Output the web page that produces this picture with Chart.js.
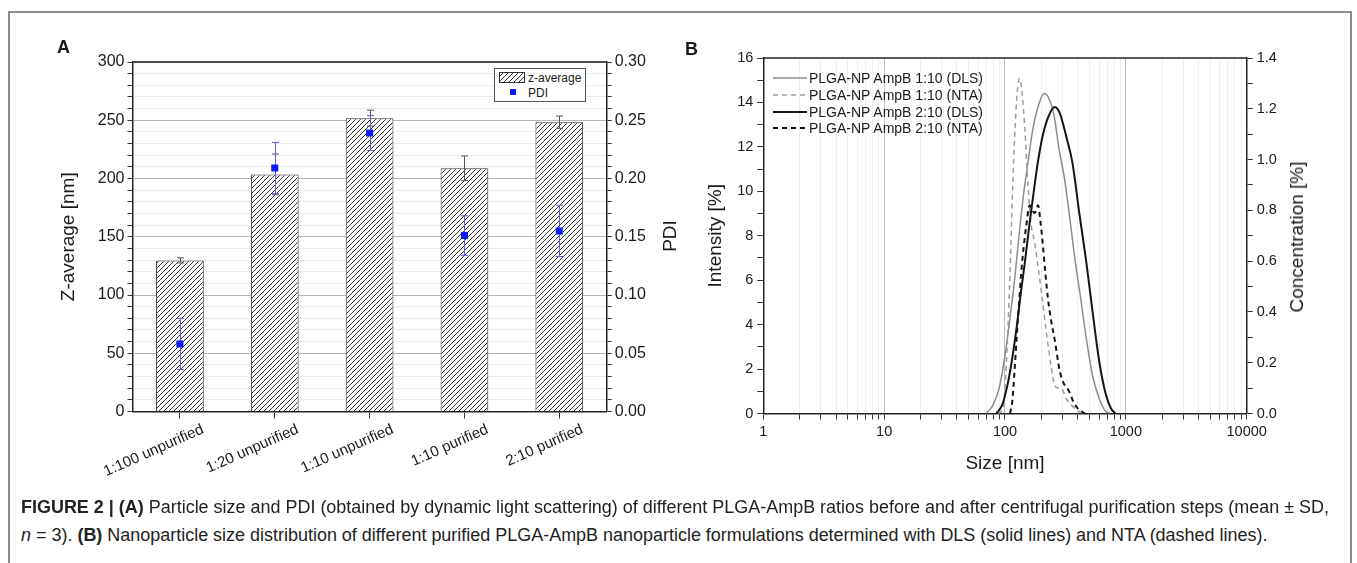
<!DOCTYPE html>
<html>
<head>
<meta charset="utf-8">
<script src="https://cdn.jsdelivr.net/npm/chart.js@4.4.1/dist/chart.umd.min.js"></script>
<style>
  body { margin: 0; width: 1357px; height: 563px; background: #fff; position: relative; overflow: hidden;
         font-family: 'Liberation Sans', Arial, sans-serif; color: #1a1a1a; }
  #frame { position: absolute; left: 8px; top: 11px; width: 1340px; height: 600px; border: 2px solid #8c8c8c; border-bottom: none; }
  canvas { position: absolute; top: 0; }
  .panel { position: absolute; font-weight: bold; font-size: 18px; }
  .rtitle { position: absolute; font-size: 19px; white-space: nowrap; transform: translate(-50%, -50%) rotate(-90deg); }
  #legA { position: absolute; left: 494px; top: 68px; width: 90px; height: 32px; border: 1px solid #555; background: #fff; font-size: 12px; }
  #legA div { position: absolute; white-space: nowrap; }
  #legB { position: absolute; left: 773px; top: 70px; font-size: 14px; }
  #legB .row { height: 16.7px; display: flex; align-items: center; white-space: nowrap; }
  #legB svg { margin-right: 2px; }
  .cap { position: absolute; left: 21px; white-space: nowrap; font-family: 'Liberation Sans Narrow', 'Liberation Sans', Arial, sans-serif;
         font-size: 17.5px; color: #222; transform-origin: 0 50%; }
</style>
</head>
<body>
<div id="frame"></div>
<canvas id="chartA" width="700" height="520" style="left:0;width:700px;height:520px"></canvas>
<canvas id="chartB" width="707" height="520" style="left:650px;width:707px;height:520px"></canvas>
<div class="panel" style="left:57px;top:37px">A</div>
<div class="panel" style="left:685px;top:39px">B</div>
<div class="rtitle" style="left:670px;top:236px">PDI</div>
<div class="rtitle" style="left:1297px;top:237px">Concentration [%]</div>
<div id="legA"></div>
<div id="legB"></div>
<div class="cap" id="cap1" style="top:497px"><b>FIGURE 2 | (A)</b> Particle size and PDI (obtained by dynamic light scattering) of different PLGA-AmpB ratios before and after centrifugal purification steps (mean ± SD,</div>
<div class="cap" id="cap2" style="top:525px"><i>n</i> = 3). <b>(B)</b> Nanoparticle size distribution of different purified PLGA-AmpB nanoparticle formulations determined with DLS (solid lines) and NTA (dashed lines).</div>
<script>
// panel A data
const categories = ['1:100 unpurified', '1:20 unpurified', '1:10 unpurified', '1:10 purified', '2:10 purified'];
const zAverage = [129.7, 203.5, 251.8, 208.8, 248.3];
const zAverageSD = [2.2, 17.5, 6.8, 10.6, 5.3];
const pdi = [0.058, 0.209, 0.239, 0.151, 0.155];
const pdiSD = [0.022, 0.022, 0.015, 0.017, 0.022];

// panel B data (size in nm, DLS intensity in %, NTA concentration in %)
const dls110Size = [70, 80, 90, 100, 110, 120, 130, 142, 155, 170, 190, 210, 230, 255, 280, 310, 340, 380, 420, 470, 530, 600, 680, 740];
const dls110Intensity = [0, 0.4, 1.2, 2.6, 4.3, 6.0, 7.9, 9.8, 11.3, 12.8, 13.9, 14.4, 14.2, 13.4, 11.9, 10.6, 9.0, 6.9, 5.3, 3.4, 1.7, 0.7, 0.1, 0];
const nta110Size = [88, 96, 100, 105, 110, 115, 120, 126, 132, 138, 146, 155, 165, 175, 185, 200, 220, 240, 258, 275, 292, 320, 360, 400, 440];
const nta110Conc = [0, 0.02, 0.1, 0.3, 0.55, 0.85, 1.08, 1.26, 1.32, 1.27, 1.12, 0.9, 0.74, 0.68, 0.6, 0.48, 0.32, 0.19, 0.11, 0.1, 0.1, 0.06, 0.03, 0.01, 0];
const dls210Size = [85, 95, 105, 113, 125, 135, 146, 160, 175, 187, 205, 230, 258, 285, 320, 361, 410, 471, 530, 606, 680, 750, 820];
const dls210Intensity = [0, 0.4, 1.3, 2.25, 3.9, 5.4, 6.8, 8.6, 10.2, 11.3, 12.5, 13.4, 13.8, 13.5, 12.5, 11.3, 9.1, 6.8, 4.6, 2.25, 0.9, 0.25, 0];
const nta210Size = [110, 115, 120, 125, 130, 136, 143, 150, 160, 168, 176, 188, 196, 206, 216, 227, 242, 258, 283, 305, 322, 345, 365, 400, 441, 460];
const nta210Conc = [0, 0.05, 0.17, 0.3, 0.42, 0.55, 0.66, 0.74, 0.82, 0.8, 0.79, 0.82, 0.76, 0.66, 0.55, 0.45, 0.36, 0.29, 0.17, 0.12, 0.105, 0.08, 0.05, 0.02, 0.005, 0];
const majorSizes = [1, 10, 100, 1000, 10000];

Chart.defaults.font.family = "'Liberation Sans', Arial, sans-serif";
Chart.defaults.color = '#1a1a1a';

function hatchPattern(step, color) {
    const c = document.createElement('canvas');
    c.width = c.height = step;
    const g = c.getContext('2d');
    g.fillStyle = '#fff';
    g.fillRect(0, 0, step, step);
    g.strokeStyle = color;
    g.lineWidth = 1;
    g.beginPath();
    g.moveTo(0, step); g.lineTo(step, 0);
    g.moveTo(-1, 1); g.lineTo(1, -1);
    g.moveTo(step - 1, step + 1); g.lineTo(step + 1, step - 1);
    g.stroke();
    return { canvas: c, pattern: g.createPattern(c, 'repeat') };
}
const hatch = hatchPattern(5, '#333');

// error bars, drawn with the dataset's own y scale
function drawErrors(chart, index) {
    const ds = chart.data.datasets[index];
    if (!ds.errors) return;
    const ctx = chart.ctx;
    const scale = chart.scales[ds.yAxisID];
    const meta = chart.getDatasetMeta(index);
    ctx.save();
    ctx.strokeStyle = ds.errorColor;
    ctx.lineWidth = 1;
    meta.data.forEach((el, j) => {
        const top = scale.getPixelForValue(ds.data[j] + ds.errors[j]);
        const bot = scale.getPixelForValue(ds.data[j] - ds.errors[j]);
        const x = Math.round(el.x) + 0.5;
        ctx.beginPath();
        ctx.moveTo(x, top); ctx.lineTo(x, bot);
        ctx.moveTo(x - 3.5, top); ctx.lineTo(x + 3.5, top);
        ctx.moveTo(x - 3.5, bot); ctx.lineTo(x + 3.5, bot);
        ctx.stroke();
    });
    ctx.restore();
}
const errorBars = {
    id: 'errorBars',
    beforeDatasetDraw(chart, args) {
        if (chart.data.datasets[args.index].errorWhen === 'before') drawErrors(chart, args.index);
    },
    afterDatasetDraw(chart, args) {
        if (chart.data.datasets[args.index].errorWhen === 'after') drawErrors(chart, args.index);
    }
};
const topLine = {
    id: 'topLine',
    afterDraw(chart) {
        const { ctx, chartArea: a } = chart;
        ctx.save();
        ctx.strokeStyle = '#222';
        ctx.lineWidth = 1.5;
        ctx.beginPath();
        ctx.moveTo(a.left, a.top);
        ctx.lineTo(a.right, a.top);
        ctx.stroke();
        ctx.restore();
    }
};
const axisBorder = { color: '#222', width: 1.5 };

new Chart(document.getElementById('chartA'), {
    type: 'bar',
    data: {
        labels: categories,
        datasets: [
            {
                label: 'z-average', data: zAverage, yAxisID: 'y', order: 2,
                backgroundColor: hatch.pattern, borderColor: '#333', borderWidth: 1,
                barPercentage: 0.503, categoryPercentage: 1,
                errors: zAverageSD, errorColor: '#555', errorWhen: 'after'
            },
            {
                type: 'line', label: 'PDI', data: pdi, yAxisID: 'y2', order: 1, showLine: false,
                pointStyle: 'rect', pointRadius: 5, pointBackgroundColor: '#0b1cf2', pointBorderColor: '#0b1cf2', pointBorderWidth: 0,
                errors: pdiSD, errorColor: '#5b5be8', errorWhen: 'before'
            }
        ]
    },
    options: {
        responsive: false,
        animation: false,
        events: [],
        layout: { padding: { left: 53, right: 16, top: 62, bottom: 28.5 } },
        plugins: { legend: { display: false }, tooltip: { enabled: false } },
        scales: {
            x: {
                grid: { drawOnChartArea: false, offset: false, tickLength: 7, tickColor: '#333' },
                border: axisBorder,
                ticks: { font: { size: 15 }, minRotation: 24, maxRotation: 24, padding: 2, labelOffset: 23, autoSkip: false },
                afterFit: s => { s.height = 80; }
            },
            y: {
                position: 'left', min: 0, max: 300,
                ticks: { stepSize: 10, autoSkip: false, font: { size: 16 }, padding: 3, callback: v => v % 50 === 0 ? v : '' },
                grid: { color: c => c.tick.value % 50 === 0 ? '#b5b5b5' : '#ececec', tickLength: 5, tickColor: '#333' },
                border: axisBorder,
                title: { display: true, text: 'Z-average [nm]', font: { size: 19 } },
                afterFit: s => { s.width = 79.5; }
            },
            y2: {
                position: 'right', min: 0, max: 0.3,
                ticks: { stepSize: 0.01, autoSkip: false, font: { size: 16 }, padding: 3,
                         callback: v => Math.round(v * 100) % 5 === 0 ? v.toFixed(2) : '' },
                grid: { drawOnChartArea: false, tickLength: 5, tickColor: '#333' },
                border: axisBorder,
                afterFit: s => { s.width = 77.3; }
            }
        }
    },
    plugins: [errorBars, topLine]
});

// legend A
const legA = document.getElementById('legA');
const sw = document.createElement('canvas');
sw.width = 26; sw.height = 11;
const swc = sw.getContext('2d');
swc.fillStyle = hatch.pattern;
swc.fillRect(0, 0, 26, 11);
swc.strokeStyle = '#333';
swc.strokeRect(0.5, 0.5, 25, 10);
sw.style.cssText = 'position:absolute;left:4px;top:3px;width:26px;height:11px';
legA.appendChild(sw);
legA.insertAdjacentHTML('beforeend',
    '<div style="left:33px;top:2px">z-average</div>' +
    '<div style="left:15px;top:20px;width:6px;height:6px;background:#0b1cf2"></div>' +
    '<div style="left:33px;top:17px">PDI</div>');

const seriesB = [
    { label: 'PLGA-NP AmpB 1:10 (DLS)', xs: dls110Size, ys: dls110Intensity, axis: 'y', color: '#8c8c8c', width: 1.5, dash: [] },
    { label: 'PLGA-NP AmpB 1:10 (NTA)', xs: nta110Size, ys: nta110Conc, axis: 'y2', color: '#9c9c9c', width: 1.5, dash: [5, 4] },
    { label: 'PLGA-NP AmpB 2:10 (DLS)', xs: dls210Size, ys: dls210Intensity, axis: 'y', color: '#151515', width: 2, dash: [] },
    { label: 'PLGA-NP AmpB 2:10 (NTA)', xs: nta210Size, ys: nta210Conc, axis: 'y2', color: '#151515', width: 2, dash: [5, 4] }
];

const sizeTicks = [];
for (let d = 1; d < 10000; d *= 10) for (let k = 1; k < 10; k++) sizeTicks.push(k * d);
sizeTicks.push(10000);

new Chart(document.getElementById('chartB'), {
    type: 'line',
    data: {
        datasets: seriesB.map((s, i) => ({
            label: s.label,
            data: s.xs.map((x, j) => ({ x: x, y: s.ys[j] })),
            yAxisID: s.axis,
            borderColor: s.color,
            borderWidth: s.width,
            borderDash: s.dash,
            pointRadius: 0,
            cubicInterpolationMode: 'monotone',
            fill: false,
            order: seriesB.length - i
        }))
    },
    options: {
        responsive: false,
        animation: false,
        events: [],
        layout: { padding: { left: 50, right: 45.8, top: 58, bottom: 41 } },
        plugins: { legend: { display: false }, tooltip: { enabled: false } },
        scales: {
            x: {
                type: 'logarithmic', min: 1, max: 10000,
                afterBuildTicks: s => { s.ticks = sizeTicks.map(v => ({ value: v })); },
                ticks: { autoSkip: false, maxRotation: 0, font: { size: 14.5 }, padding: 4,
                         callback: v => majorSizes.includes(v) ? String(v) : '' },
                grid: { color: c => majorSizes.includes(c.tick.value) ? '#bdbdbd' : '#efefef', tickLength: 6, tickColor: '#333' },
                border: axisBorder,
                title: { display: true, text: 'Size [nm]', font: { size: 19 } },
                afterFit: s => { s.height = 65.5; }
            },
            y: {
                position: 'left', min: 0, max: 16,
                ticks: { stepSize: 1, autoSkip: false, font: { size: 14.5 }, padding: 4, callback: v => v % 2 === 0 ? v : '' },
                grid: { drawOnChartArea: false, tickLength: 6, tickColor: '#333' },
                border: axisBorder,
                title: { display: true, text: 'Intensity [%]', font: { size: 19 } },
                afterFit: s => { s.width = 63.3; }
            },
            y2: {
                position: 'right', min: 0, max: 1.4,
                ticks: { stepSize: 0.1, autoSkip: false, font: { size: 14.5 }, padding: 4,
                         callback: v => Math.round(v * 10) % 2 === 0 ? v.toFixed(1) : '' },
                grid: { drawOnChartArea: false, tickLength: 6, tickColor: '#333' },
                border: axisBorder,
                afterFit: s => { s.width = 64.5; }
            }
        }
    },
    plugins: [topLine]
});

// legend B
document.getElementById('legB').innerHTML = seriesB.map(s =>
    '<div class="row"><svg width="34" height="4"><line x1="0" y1="2" x2="34" y2="2" stroke="' + s.color +
    '" stroke-width="' + s.width + '" stroke-dasharray="' + s.dash.join(',') + '"/></svg>' + s.label + '</div>').join('');

// caption: fit the condensed journal type to the original line width
function fitCaption() {
    const c1 = document.getElementById('cap1');
    const c2 = document.getElementById('cap2');
    const k = 1308 / c1.getBoundingClientRect().width;
    c1.style.transform = 'scaleX(' + k + ')';
    c2.style.transform = 'scaleX(' + k + ')';
}
fitCaption();
</script>
</body>
</html>
